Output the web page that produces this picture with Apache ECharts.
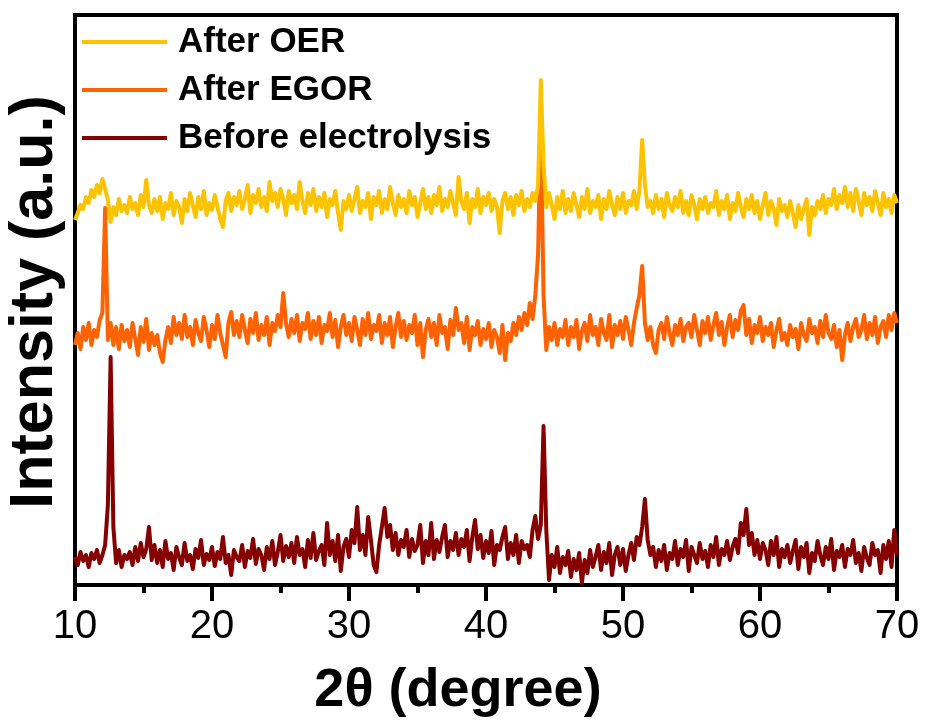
<!DOCTYPE html>
<html>
<head>
<meta charset="utf-8">
<script src="https://cdn.jsdelivr.net/npm/echarts@6/dist/echarts.min.js"></script>
<style>
html,body{margin:0;padding:0;background:#fff;}
#chart{width:925px;height:720px;}
</style>
</head>
<body>
<div id="chart"></div>
<script>
// 2θ sampling grid of the scan
const start2Theta = 10;
const step2Theta = 0.2;
const xTickValues = [10, 20, 30, 40, 50, 60, 70];
const seriesNames = ['After OER', 'After EGOR', 'Before electrolysis'];

// Intensities (a.u., stacked offsets as plotted), one value per 0.2° from 10° to 70°
const beforeElectrolysis = [
  28, 20, 33, 24, 30, 18, 32, 26, 35, 22,
  30, 40, 80, 228, 58, 22, 35, 18, 30, 26,
  33, 20, 38, 24, 42, 28, 36, 58, 25, 40,
  22, 35, 18, 44, 26, 32, 15, 38, 28, 20,
  42, 24, 30, 16, 36, 27, 45, 20, 31, 25,
  38, 19, 33, 26, 48, 22, 30, 10, 35, 28,
  24, 40, 18, 34, 27, 46, 21, 36, 30, 15,
  38, 26, 44, 20, 33, 50, 24, 39, 28, 42,
  22, 48, 30, 36, 18, 45, 27, 52, 25, 34,
  40, 20, 62, 30, 44, 24, 50, 14, 38, 46,
  28, 55, 42, 78, 35, 50, 30, 68, 45, 20,
  13, 40, 58, 77, 48, 60, 35, 52, 30, 45,
  38, 55, 28, 46, 34, 40, 60, 22, 44, 30,
  62, 26, 45, 33, 48, 60, 28, 44, 35, 52,
  30, 46, 38, 55, 24, 48, 65, 36, 50, 27,
  44, 32, 54, 20, 40, 35, 48, 58, 26, 42,
  30, 50, 22, 44, 36, 40, 28, 55, 69, 46,
  60, 159, 55, 5, 30, 18, 38, 12, 28, 20,
  34, 8, 26, 15, 32, 2, 25, 12, 35, 18,
  28, 40, 15, 33, 22, 42, 10, 30, 38, 20,
  36, 14, 30, 42, 25, 48, 40, 58, 86, 45,
  30, 38, 18, 35, 24, 40, 15, 32, 26, 44,
  20, 36, 28, 45, 14, 38, 30, 22, 42, 26,
  34, 18, 40, 28, 48, 20, 36, 30, 44, 25,
  38, 46, 32, 62, 50, 76, 40, 52, 30, 45,
  26, 42, 35, 20, 44, 30, 48, 18, 36, 28,
  40, 22, 34, 45, 16, 38, 28, 42, 12, 32,
  24, 44, 30, 20, 38, 26, 46, 15, 34, 28,
  40, 18, 36, 30, 45, 22, 32, 14, 38, 27,
  20, 42, 30, 35, 12, 40, 26, 44, 18, 55,
  30
];

const afterEGOR = [
  240, 252, 236, 258, 245, 262, 240, 255, 248, 265,
  272, 377, 245, 262, 240, 258, 236, 260, 244, 255,
  238, 262, 246, 230, 258, 243, 266, 235, 252, 240,
  250, 232, 223, 245, 258, 242, 268, 250, 262, 246,
  270, 248, 258, 240, 265, 252, 244, 268, 255, 238,
  260, 246, 270, 252, 240, 228, 262, 273, 250, 264,
  248, 270, 255, 242, 266, 252, 272, 245, 260, 250,
  268, 240, 262, 254, 270, 258, 292, 262, 248, 266,
  252, 270, 244, 262, 256, 272, 246, 264, 250, 268,
  242, 260, 254, 272, 248, 265, 238, 258, 270, 250,
  262, 244, 268, 255, 240, 266, 250, 272, 246, 260,
  254, 270, 242, 262, 250, 268, 238, 258, 272, 248,
  264, 245, 260, 252, 270, 240, 262, 228, 255, 266,
  248, 262, 240, 270, 252, 258, 236, 265, 250, 277,
  255, 262, 242, 268, 235, 258, 250, 264, 240, 256,
  246, 262, 238, 255, 248, 232, 260, 225, 252, 244,
  262, 250, 268, 255, 272, 260, 282, 266, 290, 330,
  460, 290, 235, 258, 245, 262, 240, 256, 248, 265,
  240, 258, 248, 265, 236, 254, 262, 244, 270, 250,
  258, 240, 266, 252, 245, 270, 238, 260, 250, 264,
  246, 268, 255, 240, 262, 277, 290, 319, 262, 245,
  258, 240, 232, 255, 262, 246, 268, 252, 240, 260,
  250, 266, 244, 258, 262, 248, 270, 255, 240, 264,
  252, 268, 245, 260, 272, 250, 263, 240, 258, 270,
  248, 265, 255, 274, 280, 250, 266, 242, 260, 252,
  268, 244, 258, 250, 262, 238, 255, 266, 245, 252,
  240, 260, 248, 256, 236, 262, 250, 244, 266, 252,
  258, 242, 264, 248, 270, 252, 246, 260, 238, 255,
  225, 250, 262, 244, 258, 266, 248, 255, 270, 246,
  262, 250, 268, 242, 258, 264, 248, 270, 255, 272,
  262
];

const afterOER = [
  365, 372, 380, 376, 388, 382, 395, 388, 400, 392,
  406, 396, 385, 363, 378, 370, 386, 374, 380, 372,
  388, 376, 382, 370, 390, 378, 405, 380, 372, 386,
  374, 388, 366, 382, 376, 392, 370, 384, 378, 362,
  386, 374, 392, 380, 368, 388, 376, 394, 370, 382,
  375, 390, 378, 366, 358, 384, 392, 374, 388, 380,
  394, 376, 386, 400, 372, 390, 382, 396, 378, 388,
  374, 403, 384, 392, 378, 396, 386, 370, 394, 382,
  390, 376, 403, 384, 372, 392, 380, 396, 374, 388,
  378, 392, 368, 386, 380, 394, 372, 355, 384, 376,
  390, 374, 386, 398, 372, 384, 378, 392, 366, 388,
  380, 394, 372, 386, 376, 398, 382, 370, 390, 378,
  386, 372, 394, 380, 388, 368, 382, 396, 376, 388,
  372, 390, 380, 398, 374, 386, 378, 394, 382, 370,
  408, 384, 376, 392, 362, 386, 378, 396, 372, 388,
  380, 392, 374, 386, 378, 352, 384, 392, 376, 388,
  370, 390, 380, 394, 374, 386, 378, 392, 384, 400,
  505, 420, 378, 392, 380, 366, 388, 376, 394, 372,
  386, 374, 392, 380, 368, 388, 376, 396, 372, 384,
  378, 390, 366, 386, 376, 394, 380, 370, 388, 376,
  392, 372, 384, 380, 394, 376, 395, 445, 400, 378,
  384, 372, 390, 376, 386, 368, 392, 380, 374, 388,
  378, 394, 372, 384, 370, 390, 380, 366, 386, 376,
  388, 372, 382, 378, 394, 370, 384, 376, 390, 366,
  382, 374, 392, 378, 368, 386, 376, 390, 372, 384,
  366, 380, 392, 370, 384, 376, 360, 386, 374, 380,
  368, 384, 372, 358, 380, 366, 376, 386, 350, 378,
  370, 384, 376, 390, 372, 386, 380, 396, 376, 390,
  382, 398, 378, 392, 374, 396, 384, 370, 392, 380,
  388, 374, 394, 382, 370, 392, 378, 386, 372, 390,
  382
];

function toPairs(values) {
  return values.map(function (v, i) {
    return [Math.round((start2Theta + i * step2Theta) * 10) / 10, v];
  });
}

const colors = {
  'After OER': '#FDC300',
  'After EGOR': '#FF6200',
  'Before electrolysis': '#870000'
};

const chart = echarts.init(document.getElementById('chart'), null, {renderer: 'canvas'});

const FONT = 'Liberation Sans, Arial, sans-serif';

const option = {
  backgroundColor: '#ffffff',
  animation: false,
  grid: {
    left: 75, right: 28, top: 15, bottom: 135,
    show: true, borderColor: '#000', borderWidth: 4, backgroundColor: 'transparent'
  },
  legend: {
    data: seriesNames,
    orient: 'vertical',
    left: 82,
    top: 22,
    padding: 0,
    itemGap: 8,
    itemWidth: 85,
    itemHeight: 4,
    icon: 'rect',
    textStyle: {
      fontFamily: FONT, fontWeight: 'bold', fontSize: 35, color: '#000',
      lineHeight: 40, padding: [0, 0, 0, 6]
    }
  },
  xAxis: {
    type: 'value',
    min: xTickValues[0],
    max: xTickValues[xTickValues.length - 1],
    interval: 10,
    splitLine: {show: false},
    axisLine: {show: true, onZero: false, lineStyle: {color: '#000', width: 4}},
    axisTick: {show: true, inside: false, length: 16, lineStyle: {color: '#000', width: 4}},
    minorTick: {show: true, splitNumber: 2, length: 8, lineStyle: {color: '#000', width: 4}},
    axisLabel: {fontFamily: FONT, fontSize: 40, color: '#000', margin: 22}
  },
  yAxis: {
    type: 'value',
    min: 0,
    max: 570,
    splitLine: {show: false},
    axisLine: {show: true, lineStyle: {color: '#000', width: 4}},
    axisTick: {show: false},
    axisLabel: {show: false}
  },
  graphic: [
    {
      type: 'text',
      style: {
        text: '2\u03B8 (degree)',
        x: 458, y: 691,
        textAlign: 'center', textVerticalAlign: 'middle',
        font: 'bold 54px ' + FONT, fill: '#000'
      }
    },
    {
      type: 'text',
      x: 35, y: 302,
      rotation: Math.PI / 2,
      style: {
        text: 'Intensity (a.u.)',
        x: 0, y: 0,
        textAlign: 'center', textVerticalAlign: 'middle',
        font: 'bold 61px ' + FONT, fill: '#000'
      }
    }
  ],
  series: [
    {
      name: 'Before electrolysis', type: 'line', showSymbol: false, symbol: 'none',
      data: toPairs(beforeElectrolysis), lineStyle: {width: 4, color: colors['Before electrolysis'], join: 'round'},
      itemStyle: {color: colors['Before electrolysis']}, z: 2
    },
    {
      name: 'After EGOR', type: 'line', showSymbol: false, symbol: 'none',
      data: toPairs(afterEGOR), lineStyle: {width: 4, color: colors['After EGOR'], join: 'round'},
      itemStyle: {color: colors['After EGOR']}, z: 3
    },
    {
      name: 'After OER', type: 'line', showSymbol: false, symbol: 'none',
      data: toPairs(afterOER), lineStyle: {width: 4, color: colors['After OER'], join: 'round'},
      itemStyle: {color: colors['After OER']}, z: 4
    }
  ]
};

chart.setOption(option);
</script>
</body>
</html>
